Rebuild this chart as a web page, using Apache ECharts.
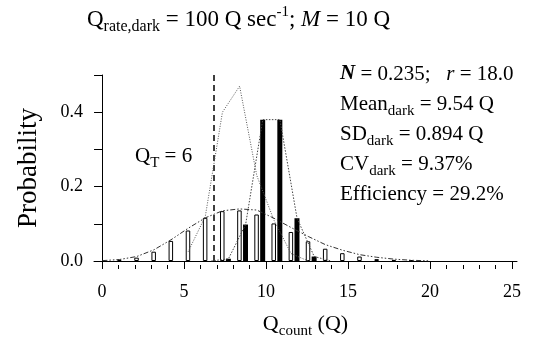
<!DOCTYPE html>
<html><head><meta charset="utf-8">
<script src="https://cdn.jsdelivr.net/npm/echarts@6/dist/echarts.min.js"></script>
<style>html,body{margin:0;padding:0;background:#fff}#c{width:548px;height:337px}</style>
</head><body><div id="c"></div>
<script>
// ---- data ----
const counts   = [0,1,2,3,4,5,6,7,8,9,10,11,12,13,14,15,16,17,18,19];
const allProb  = [0,0.003,0.009,0.025,0.054,0.082,0.116,0.134,0.136,0.125,0.101,0.078,0.053,0.033,0.021,0.012,0.005,0.003,0.002,0];
const darkProb = [0,0,0,0,0,0,0,0.006,0.098,0.38,0.38,0.115,0.012,0,0,0,0,0,0,0];
const fitProb  = [0.001,0.004,0.012,0.03,0.057,0.088,0.116,0.135,0.14,0.137,0.115,0.09,0.066,0.044,0.029,0.017,0.01,0.005,0.002,0.0005];
const lightCounts = [5,6,7,8,9,10,11,12];
const lightProb   = [0.025,0.12,0.40,0.47,0.23,0.11,0.02,0.0];
const QT = 6;
const xTickMajor = [0,5,10,15,20,25];
const xTickMinor = [0,1,2,3,4,5,6,7,8,9,10,11,12,13,14,15,16,17,18,19,20,21,22,23,24,25];

// ---- layout constants ----
const openShift = -0.175, darkShift = 0.175, qtShift = 0.17;
const FONT = '"Liberation Serif","Times New Roman",serif';
const axMin = -0.49, axMax = 25.3;      // visible axis range
const binMin = -0.665, binMax = 24.0;   // histogram bins axis range

const chart = echarts.init(document.getElementById('c'), null, {renderer:'canvas'});
const T = (size, extra) => Object.assign({fontFamily:FONT, fontSize:size, color:'#000', fontWeight:'normal'}, extra||{});
const rich = {
  m:T(21,{lineHeight:30}),
  s:T(15,{lineHeight:18,verticalAlign:'bottom'}),
  i:T(21,{lineHeight:30,fontStyle:'italic'}),
  b:T(21,{lineHeight:30,fontStyle:'italic',fontWeight:'bold'}),
  tm:T(23,{lineHeight:30}),
  ts:T(16,{lineHeight:19,verticalAlign:'bottom'}),
  tp:T(15,{lineHeight:21,verticalAlign:'top'}),
  ti:T(23,{lineHeight:30,fontStyle:'italic'}),
  xm:T(22,{lineHeight:30}),
  xs:T(15,{lineHeight:18,verticalAlign:'bottom'})
};

chart.setOption({
  animation:false,
  backgroundColor:'#fff',
  title:[
    {text:'{tm|Q}{ts|rate,dark}{tm| = 100 Q sec}{tp|-1}{tm|; }{ti|M}{tm| = 10 Q}', left:87, top:5, padding:0, textStyle:{rich}},
    {text:'{b|N}{m| = 0.235;   }{i|r}{m| = 18.0}\n{m|Mean}{s|dark}{m| = 9.54 Q}\n{m|SD}{s|dark}{m| = 0.894 Q}\n{m|CV}{s|dark}{m| = 9.37%}\n{m|Efficiency = 29.2%}', left:340, top:59, padding:0, textStyle:{rich}},
    {text:'{m|Q}{s|T}{m| = ' + QT + '}', left:135, top:141, padding:0, textStyle:{rich}}
  ],
  grid:{left:94, right:548-517, top:75, bottom:76, containLabel:false, outerBoundsMode:'none'},
  xAxis:[
    {type:'value', min:axMin, max:axMax, position:'bottom', offset:4,
     axisLine:{show:true, lineStyle:{color:'#000',width:1}},
     axisTick:{show:true, length:7, customValues:xTickMajor, lineStyle:{color:'#000',width:1}},
     axisLabel:{customValues:xTickMajor, fontSize:18, margin:18, fontFamily:FONT, color:'#000'},
     splitLine:{show:false},
     name:'{xm|Q}{xs|count}{xm| (Q)}', nameLocation:'middle', nameGap:44,
     nameTextStyle:{rich}},
    {type:'value', min:axMin, max:axMax, position:'bottom', offset:4,
     axisLine:{show:false},
     axisTick:{show:true, length:4, customValues:xTickMinor, lineStyle:{color:'#000',width:1}},
     axisLabel:{show:false}, splitLine:{show:false}},
    {type:'value', min:binMin, max:binMax, show:false, position:'bottom'}
  ],
  yAxis:{type:'value', min:0, max:0.5, interval:0.1,
    axisLine:{show:true, lineStyle:{color:'#000',width:1}},
    axisTick:{show:true, length:8, lineStyle:{color:'#000',width:1}},
    axisLabel:{fontSize:18, margin:11, fontFamily:FONT, color:'#000',
      formatter:v => { const t = Math.round(v*10); return (t % 2 === 0 && t < 5) ? v.toFixed(1) : ''; }},
    splitLine:{show:false},
    name:'Probability', nameLocation:'middle', nameGap:52, nameRotate:90,
    nameTextStyle:{fontFamily:FONT, fontSize:27, color:'#000'}},
  series:[
    {type:'bar', name:'all', xAxisIndex:2, barWidth:4.5, barGap:'30%',
     data: counts.map((k,i)=> allProb[i] > 0 ? [k, allProb[i]] : [k, '-']),
     itemStyle:{color:'#fff', borderColor:'#000', borderWidth:1}},
    {type:'bar', name:'dark', xAxisIndex:2, barWidth:5,
     data: counts.map((k,i)=> darkProb[i] > 0 ? [k, darkProb[i]] : [k, '-']),
     itemStyle:{color:'#000'},
     markLine:{symbol:'none', silent:true, label:{show:false},
       lineStyle:{color:'#000', width:1.5, type:[6,4]},
       data:[{xAxis: QT + qtShift}]}},
    {type:'line', name:'fit', xAxisIndex:2, showSymbol:false, z:5,
     data: counts.map((k,i)=>[k+openShift, fitProb[i]]),
     lineStyle:{color:'#333', width:1, type:[5,2,1.5,2,1.5,2]}},
    {type:'line', name:'darkLine', xAxisIndex:2, showSymbol:false, z:5,
     data: counts.map((k,i)=>[k+darkShift, darkProb[i]]).filter((p,i)=> counts[i]>=6 && counts[i]<=13),
     lineStyle:{color:'#444', width:1, type:[1.5,1.5]}},
    {type:'line', name:'light', xAxisIndex:2, showSymbol:false, z:5,
     data: lightCounts.map((k,i)=>[k+openShift, lightProb[i]]),
     lineStyle:{color:'#555', width:1, type:[1,1.5]}}
  ]
});
</script></body></html>
